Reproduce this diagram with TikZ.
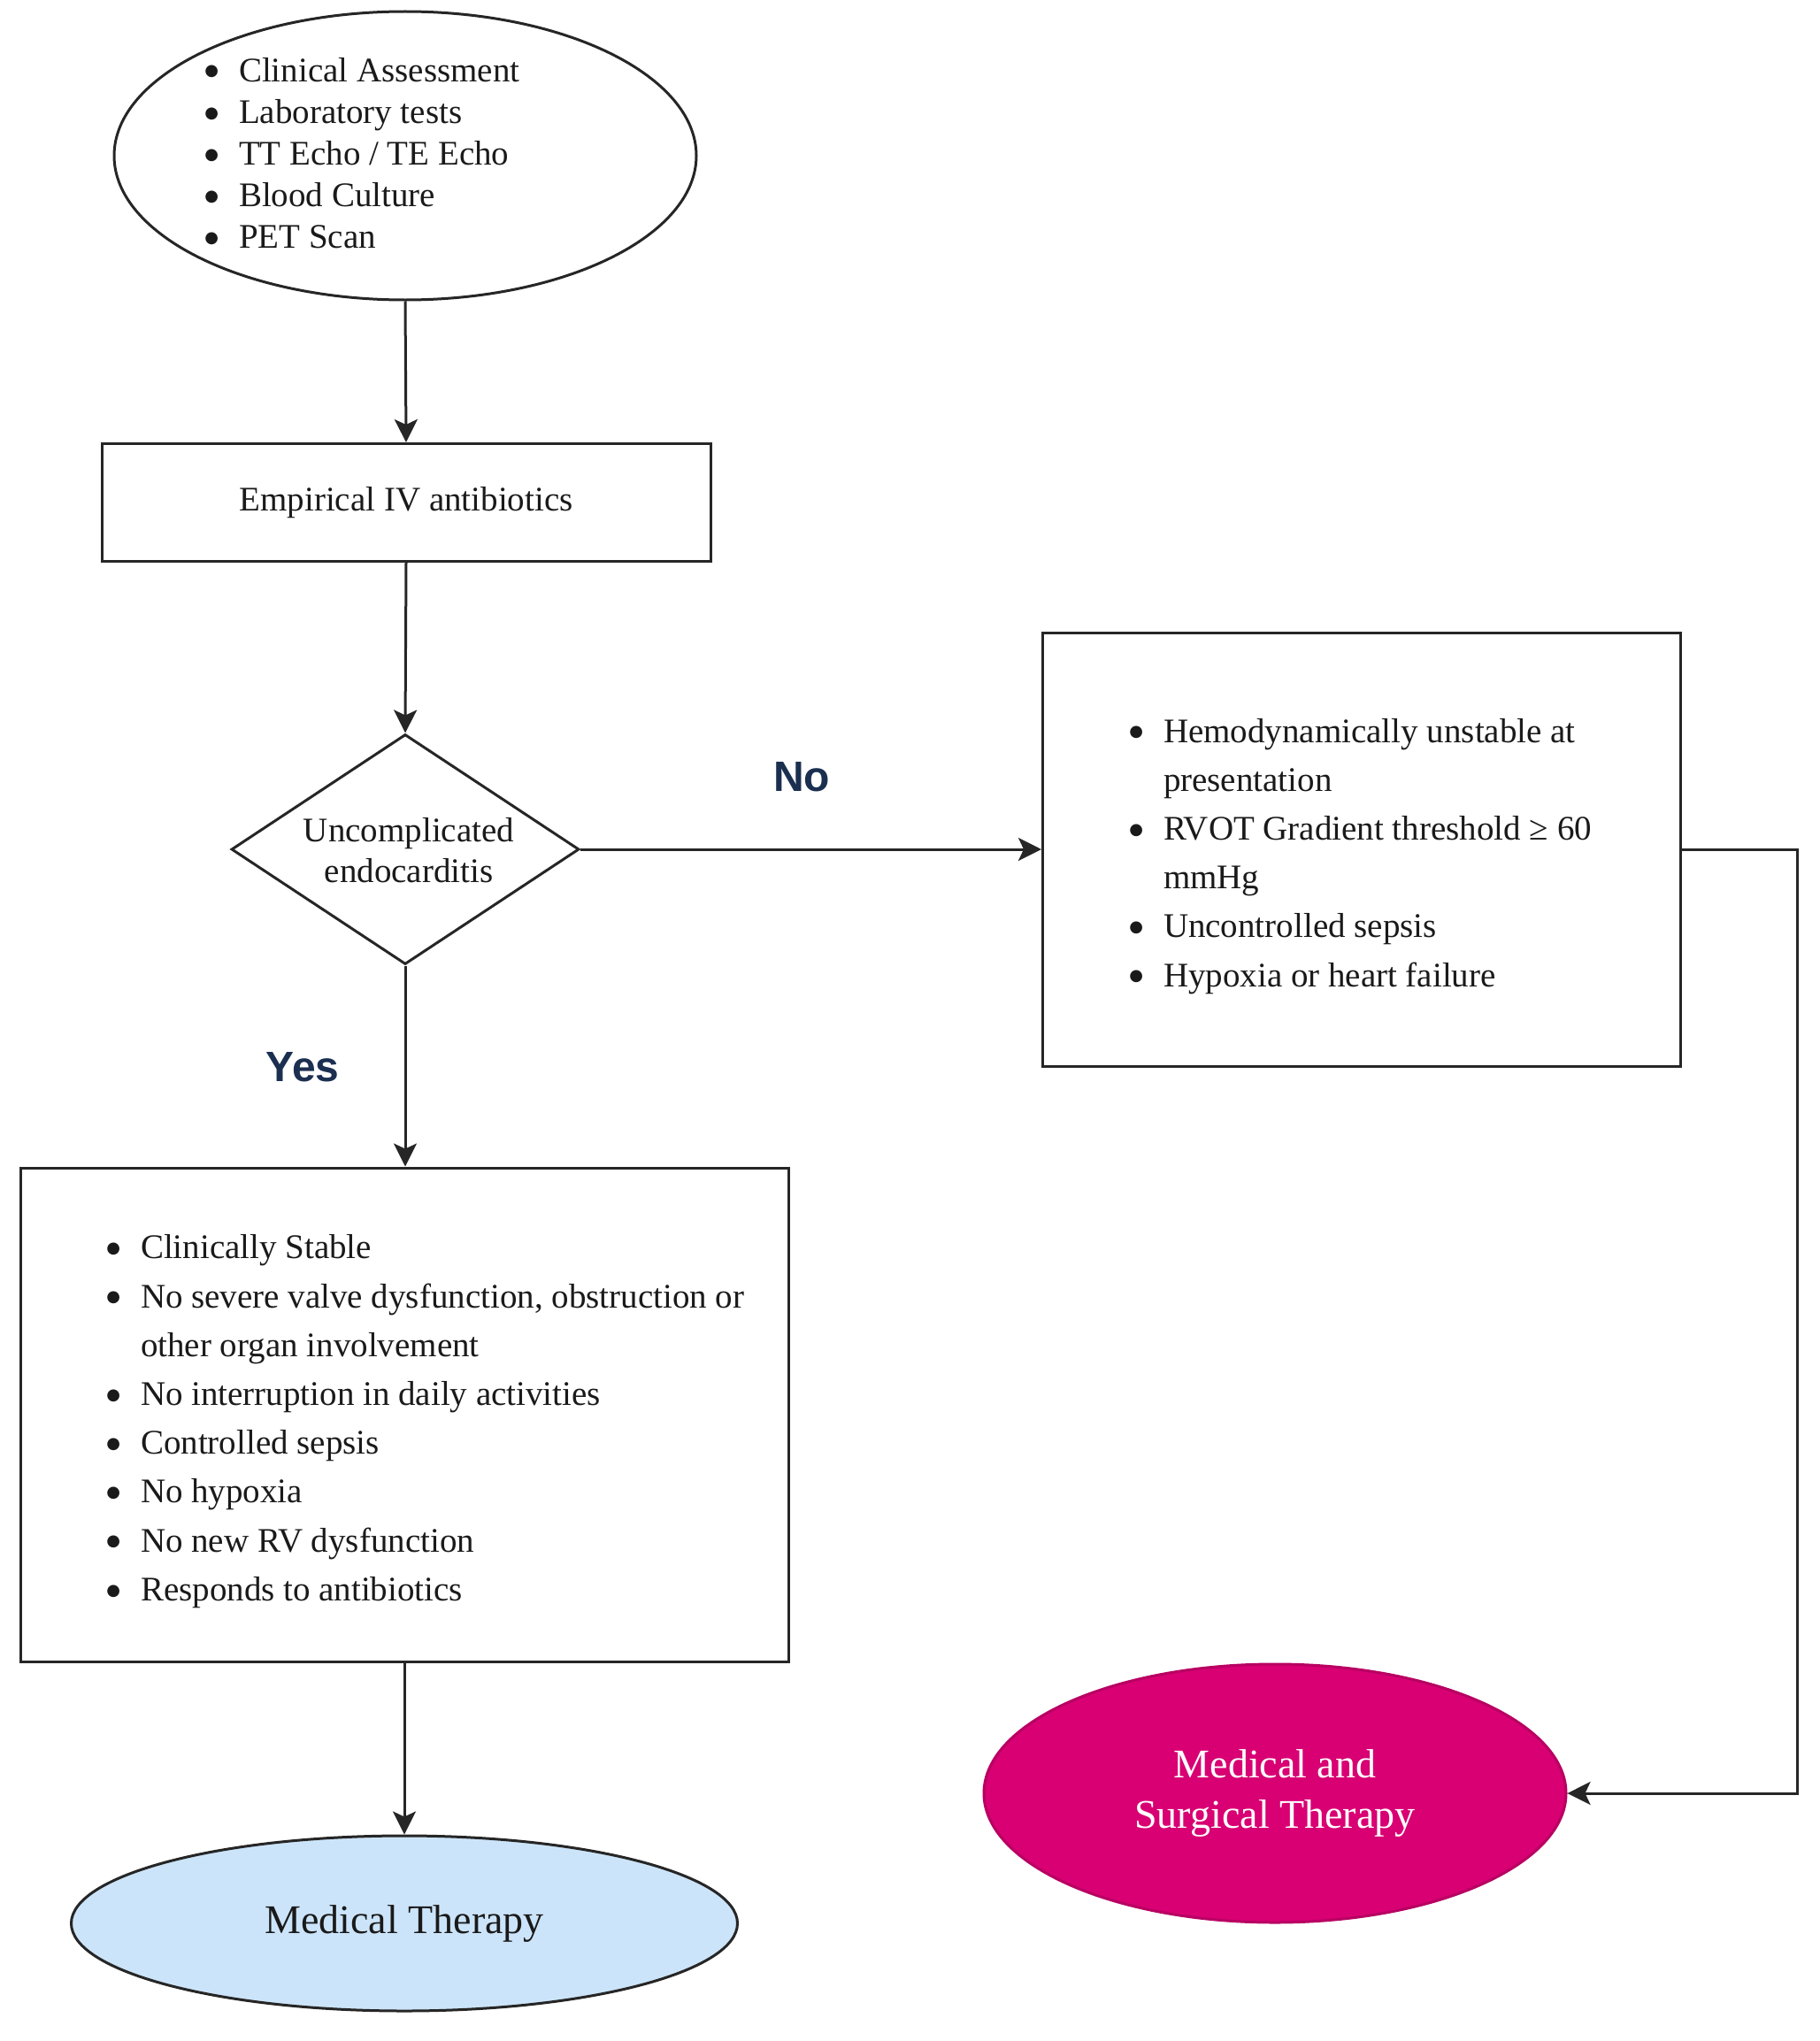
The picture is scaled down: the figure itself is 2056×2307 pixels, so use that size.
\documentclass[tikz,border=0pt]{standalone}
\usepackage{fontspec}
\setmainfont{Liberation Serif}
\newfontfamily\labelsans{Liberation Sans}
\newfontfamily\dejavu{DejaVu Sans}
\usetikzlibrary{shapes.geometric,arrows.meta}
\definecolor{navy}{HTML}{1B2F50}
\definecolor{lightblue}{HTML}{CCE4F9}
\definecolor{magfill}{HTML}{D80073}
\definecolor{txt}{HTML}{1A1A1A}
\newcommand\bigbul{\makebox[6.8pt][c]{\raisebox{3.1pt}{\dejavu\fontsize{9}{9.5}\selectfont ●}}}
\newcommand\bulletlist[1]{\begin{tabular}{@{}l@{\hspace{12pt}}l@{}}#1\end{tabular}}
\begin{document}
\begin{tikzpicture}[x=0.5pt,y=-0.5pt,
  shp/.style={draw=black!85,line width=1.5pt,inner sep=0pt,text=txt},
  boxshape/.style={shp,rectangle},
  ellshape/.style={shp,ellipse},
  arr/.style={draw=black!85,line width=1.5pt,-{Stealth[length=13pt,width=13pt,inset=3pt]}},
  bodytext/.style={inner sep=0pt,text=txt,font=\fontsize{19.5}{27.6}\selectfont},
  yesno/.style={inner sep=0pt,text=navy,font=\labelsans\bfseries\fontsize{24}{28}\selectfont}]
\useasboundingbox (0,0) rectangle (2056,2307);

% shapes
\node[ellshape,minimum width=329pt,minimum height=163pt] (top) at (458,176) {};
\node[bodytext,anchor=west,font=\fontsize{19.5}{23.6}\selectfont] (toptext) at (232,177)
  {\bulletlist{\bigbul & Clinical Assessment\\ \bigbul & Laboratory tests\\ \bigbul & TT Echo / TE Echo\\ \bigbul & Blood Culture\\ \bigbul & PET Scan}};

\node[boxshape,minimum width=344pt,minimum height=66.5pt,font=\fontsize{19.5}{23.6}\selectfont] (emp) at (459,568) {Empirical IV antibiotics};

\node[shp,diamond,minimum width=196.5pt,minimum height=130pt] (dec) at (458,960) {};
\node[bodytext,align=center,font=\fontsize{19.5}{22.8}\selectfont] (dectext) at (462,961) {Uncomplicated\\endocarditis};

\node[boxshape,minimum width=360.5pt,minimum height=245pt] (unstable) at (1539,960) {};
\node[bodytext,anchor=west] (unstabletext) at (1277,966)
  {\bulletlist{\bigbul & Hemodynamically unstable at\\ & presentation\\ \bigbul & RVOT Gradient threshold ≥ 60\\ & mmHg\\ \bigbul & Uncontrolled sepsis\\ \bigbul & Hypoxia or heart failure}};

\node[boxshape,minimum width=434pt,minimum height=279pt] (stable) at (457,1599) {};
\node[bodytext,anchor=west] (stabletext) at (121,1605)
  {\bulletlist{\bigbul & Clinically Stable\\ \bigbul & No severe valve dysfunction, obstruction or\\ & other organ involvement\\ \bigbul & No interruption in daily activities\\ \bigbul & Controlled sepsis\\ \bigbul & No hypoxia\\ \bigbul & No new RV dysfunction\\ \bigbul & Responds to antibiotics}};

\node[ellshape,fill=lightblue,minimum width=376.5pt,minimum height=99pt,font=\fontsize{23}{28.6}\selectfont] (medt) at (457,2174) {Medical Therapy};

\node[ellshape,draw=magfill!85!black,fill=magfill,text=white,align=center,minimum width=329pt,minimum height=146pt,font=\fontsize{23}{28.6}\selectfont] (mst) at (1441,2027) {Medical and\\Surgical Therapy};

% labels
\node[yesno] (no) at (906,878) {No};
\node[yesno] (yes) at (342,1206) {Yes};

% connectors
\coordinate (bend) at (2031,960);
\draw[arr] (top.south) -- (emp.north);
\draw[arr] (emp.south) -- (dec.north);
\draw[arr] (dec.south) -- (dec.south |- stable.north);
\draw[arr] (stable.south) -- (medt.north);
\draw[arr] (dec.east) -- (unstable.west);
\draw[arr] (unstable.east) -- (bend) |- (mst.east);
\end{tikzpicture}
\end{document}
